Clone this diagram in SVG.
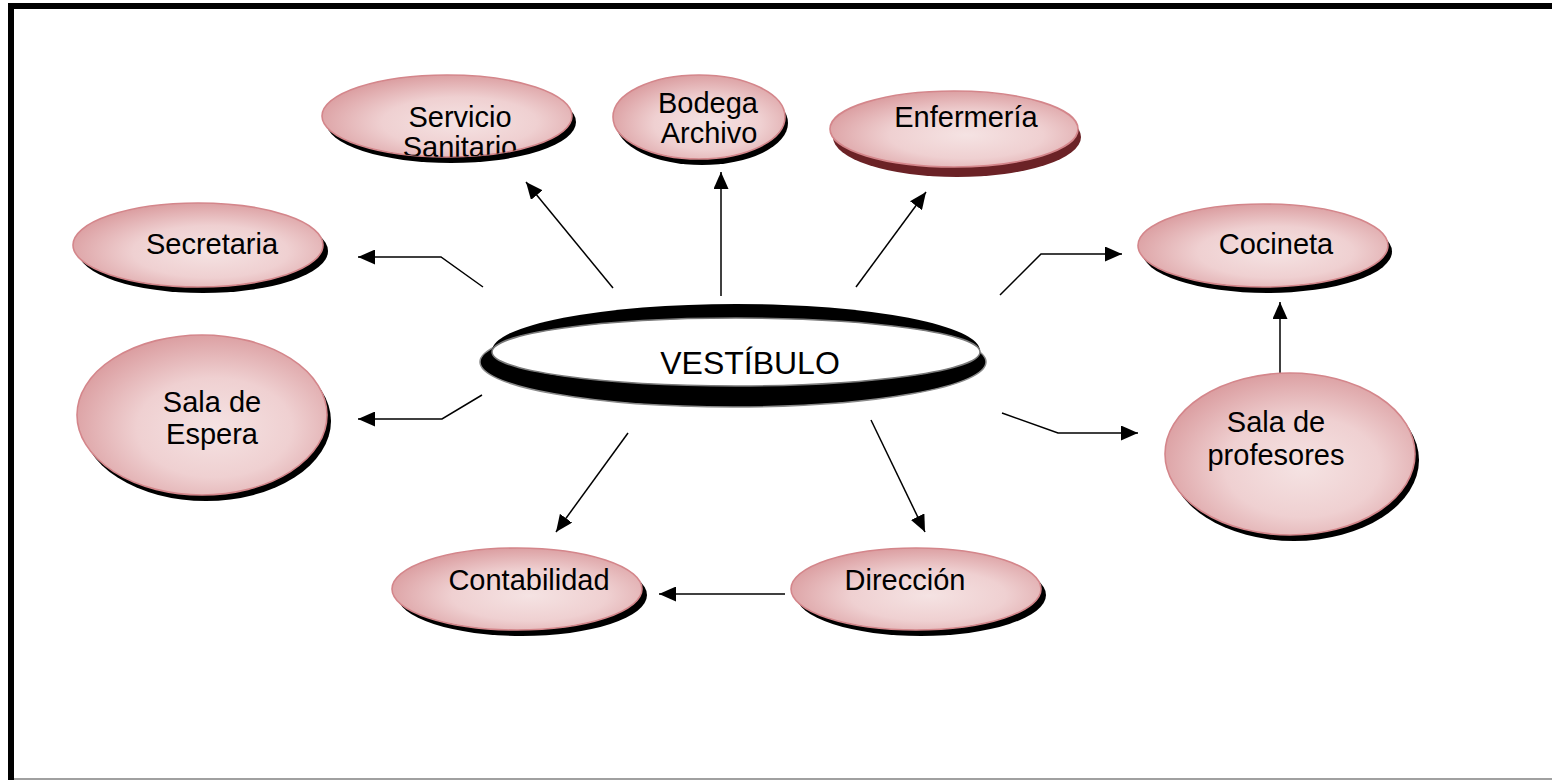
<svg xmlns="http://www.w3.org/2000/svg" width="1552" height="780" viewBox="0 0 1552 780">
<style>
.fill{fill:url(#pink);stroke:#d4868b;stroke-width:1.6}
.sh{fill:#000}
.shr{fill:#6b2226}
.t{font-family:"Liberation Sans",Arial,sans-serif;font-size:29px;fill:#000;text-anchor:middle}
.tv{font-family:"Liberation Sans",Arial,sans-serif;font-size:32px;fill:#000;text-anchor:middle}
.c{fill:none;stroke:#000;stroke-width:1.5;marker-end:url(#ah)}
</style>
<defs>
<radialGradient id="pink" cx="55%" cy="58%" r="62%">
<stop offset="0" stop-color="#f5e3e3"/>
<stop offset="0.5" stop-color="#efd0d1"/>
<stop offset="1" stop-color="#d9999c"/>
</radialGradient>
<marker id="ah" markerUnits="userSpaceOnUse" markerWidth="17" markerHeight="15" refX="17" refY="7.5" orient="auto">
<path d="M0,0 L17,7.5 L0,15 z" fill="#000"/>
</marker>
<clipPath id="clipSS"><ellipse cx="447" cy="116" rx="125" ry="41"/></clipPath>
</defs>
<rect width="1552" height="780" fill="#fff"/>
<g id="frame">
<path d="M11,780 L11,6 L1552,6" fill="none" stroke="#000" stroke-width="6"/>
<path d="M14,779 L1552,779" stroke="#a0a0a0" stroke-width="2"/>
</g>
<g id="connectors">
<polyline class="c" points="483,287 441,257 358,257"/>
<polyline class="c" points="482,395 442,419 358,419"/>
<line class="c" x1="613" y1="288" x2="526" y2="182"/>
<line class="c" x1="721" y1="296" x2="721" y2="172"/>
<line class="c" x1="856" y1="287" x2="926" y2="192"/>
<polyline class="c" points="1000,295 1041,254 1122,254"/>
<polyline class="c" points="1002,413 1058,433 1138,433"/>
<line class="c" x1="1280" y1="375" x2="1280" y2="302"/>
<line class="c" x1="628" y1="433" x2="556" y2="532"/>
<line class="c" x1="871" y1="420" x2="925" y2="532"/>
<line class="c" x1="785" y1="594" x2="659" y2="594"/>
</g>
<g id="vestibulo">
<ellipse cx="733" cy="362" rx="253" ry="45" fill="#000" stroke="#8a8a8a" stroke-width="1.5"/>
<ellipse cx="736" cy="351" rx="244" ry="47" fill="#000"/>
<ellipse cx="736" cy="352" rx="244" ry="34" fill="#fff" stroke="#7a7a7a" stroke-width="1.5"/>
<text class="tv" x="750" y="374">VESTÍBULO</text>
</g>
<g id="servicio-sanitario">
<ellipse class="sh" cx="451" cy="122" rx="125" ry="41"/>
<ellipse class="fill" cx="447" cy="116" rx="125" ry="41"/>
<g clip-path="url(#clipSS)">
<text class="t" x="460" y="127">Servicio</text>
<text class="t" x="460" y="157">Sanitario</text>
</g>
</g>
<g id="bodega-archivo">
<ellipse class="sh" cx="702" cy="123" rx="86" ry="42"/>
<ellipse class="fill" cx="699" cy="117" rx="86" ry="42"/>
<text class="t" x="708" y="113">Bodega</text>
<text class="t" x="709" y="143">Archivo</text>
</g>
<g id="enfermeria">
<ellipse class="shr" cx="957" cy="137" rx="124" ry="40"/>
<ellipse class="fill" cx="954" cy="129" rx="124" ry="38"/>
<text class="t" x="966" y="127">Enfermería</text>
</g>
<g id="secretaria">
<ellipse class="sh" cx="203" cy="251" rx="125" ry="42"/>
<ellipse class="fill" cx="198" cy="245" rx="125" ry="42"/>
<text class="t" x="212" y="254">Secretaria</text>
</g>
<g id="sala-de-espera">
<ellipse class="sh" cx="206" cy="421" rx="125" ry="80"/>
<ellipse class="fill" cx="202" cy="415" rx="125" ry="80"/>
<text class="t" x="212" y="412">Sala de</text>
<text class="t" x="212" y="444">Espera</text>
</g>
<g id="cocineta">
<ellipse class="sh" cx="1267" cy="251.5" rx="125" ry="41.5"/>
<ellipse class="fill" cx="1263" cy="245.5" rx="125" ry="41.5"/>
<text class="t" x="1276" y="254">Cocineta</text>
</g>
<g id="sala-de-profesores">
<ellipse class="sh" cx="1294" cy="460" rx="125" ry="81"/>
<ellipse class="fill" cx="1290" cy="454" rx="125" ry="81"/>
<text class="t" x="1276" y="432">Sala de</text>
<text class="t" x="1276" y="465">profesores</text>
</g>
<g id="contabilidad">
<ellipse class="sh" cx="522" cy="595" rx="125" ry="41"/>
<ellipse class="fill" cx="517" cy="589" rx="125" ry="41"/>
<text class="t" x="529" y="590">Contabilidad</text>
</g>
<g id="direccion">
<ellipse class="sh" cx="921" cy="595" rx="125" ry="41"/>
<ellipse class="fill" cx="916" cy="589" rx="125" ry="41"/>
<text class="t" x="905" y="590">Dirección</text>
</g>
</svg>
